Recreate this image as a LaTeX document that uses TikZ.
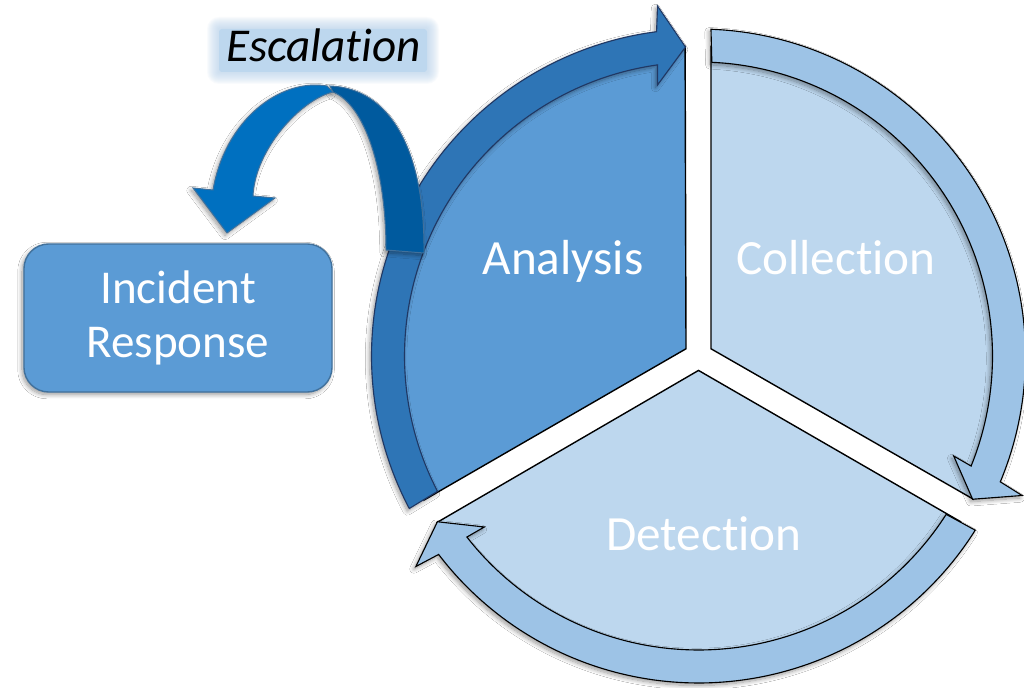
\documentclass[tikz,border=0pt]{standalone}
\usepackage{fontspec}
\setmainfont{Carlito}[Ligatures=NoCommon, Contextuals=NoAlternate]
\usetikzlibrary{calc,shadows.blur}

\definecolor{anafill}{HTML}{5B9BD5}
\definecolor{anaring}{HTML}{2E75B6}
\definecolor{anaedge}{HTML}{203864}
\definecolor{palefill}{HTML}{BDD7EE}
\definecolor{palering}{HTML}{9DC3E6}
\definecolor{boxedge}{HTML}{41719C}
\definecolor{escfront}{HTML}{0070C0}
\definecolor{escback}{HTML}{005A9E}

% geometry of the cycle (units of the picture grid)
\def\cx{698.5}\def\cy{332}
\def\rI{294}\def\rO{327}\def\rS{310}\def\rM{310.5}\def\rT{309}
\def\gp{12.5}\def\hb{41}\def\hw{39.5}\def\tp{13}

\tikzset{
  softshadow/.style={blur shadow={shadow xshift=-1.4pt, shadow yshift=-1.8pt,
      shadow blur radius=3pt, shadow blur steps=10, shadow opacity=40}},
  sectorline/.style={draw=black, line width=1pt, line join=miter},
  ringline/.style={line width=0.8pt, line join=miter, softshadow},
  lbltext/.style={text=white, anchor=base, inner sep=0pt},
  responsebox/.style={draw=boxedge, line width=1pt, fill=anafill,
      rounded corners=0.62cm, minimum width=7.7cm, minimum height=3.7cm,
      inner sep=0pt, softshadow},
  escribbon/.style={draw=boxedge, line width=0.7pt, line join=miter},
}

% pie wedge of one phase; #1 = angle of its leading gap, #2 = fill, #3 = name
\newcommand\sectorwedge[3]{%
  \pgfmathsetmacro\wA{#1-asin(\gp/\rS)}%
  \pgfmathsetmacro\wB{#1-120+asin(\gp/\rS)}%
  \pgfmathsetmacro\wV{#1-60}%
  \draw[sectorline, fill=#2] ($(C)+(\wV:14.43)$) coordinate (#3-vertex)
    -- plot[domain=0:1, samples=100, variable=\q]
       ({\cx+\rS*cos(\wA+(\wB-\wA)*\q)}, {\cy+\rS*sin(\wA+(\wB-\wA)*\q)})
    -- cycle;
}

% clockwise ring arrow round one phase; #1 = gap angle, #2 = fill, #3 = edge, #4 = name
\newcommand\ringarrow[4]{%
  \pgfmathsetmacro\hA{#1-120}%
  \pgfmathsetmacro\hN{#1-30}%
  \pgfmathsetmacro\toA{#1-asin(\gp/\rO)}%
  \pgfmathsetmacro\tiA{#1-asin(\gp/\rI)}%
  \pgfmathsetmacro\boA{\hA+asin(\hb/\rO)}%
  \pgfmathsetmacro\biA{\hA+asin(\hb/\rI)}%
  \pgfmathsetmacro\spO{(\boA)-(\toA)}%
  \pgfmathsetmacro\spI{(\tiA)-(\biA)}%
  \pgfmathsetmacro\rWo{\rM+\hw}%
  \pgfmathsetmacro\rWi{\rM-\hw}%
  \coordinate (#4-tip) at ($(C)+(\hA:\rT)+(\hN:\tp)$);
  \coordinate (#4-wo) at ($(C)+(\hA:\rWo)+(\hN:\hb)$);
  \coordinate (#4-wi) at ($(C)+(\hA:\rWi)+(\hN:\hb)$);
  \draw[ringline, fill=#2, draw=#3]
    plot[domain=0:1, samples=100, variable=\q]
      ({\cx+\rO*cos(\toA+\spO*\q)}, {\cy+\rO*sin(\toA+\spO*\q)})
    -- (#4-wo) -- (#4-tip) -- (#4-wi)
    -- plot[domain=0:1, samples=100, variable=\q]
      ({\cx+\rI*cos(\biA+\spI*\q)}, {\cy+\rI*sin(\biA+\spI*\q)})
    -- cycle;
}

% white label; name, x, y, size, text
\newcommand\whitelabel[5]{%
  \node[lbltext, font=\fontsize{#4}{#4}\selectfont] (#1) at (#2,#3) {#5};
}

\begin{document}
\begin{tikzpicture}[x=0.025cm, y=0.025cm]
  \useasboundingbox[fill=white] (0,0) rectangle (1024,688);
  \coordinate (C) at (\cx,\cy);

  % the three phases
  \sectorwedge{210}{anafill}{analysis}
  \sectorwedge{90}{palefill}{collection}
  \sectorwedge{330}{palefill}{detection}

  \ringarrow{210}{anaring}{anaedge}{analysisring}
  \ringarrow{90}{palering}{black}{collectionring}
  \ringarrow{330}{palering}{black}{detectionring}

  \whitelabel{analysislbl}{563}{413}{35}{Analysis}
  \whitelabel{collectionlbl}{836}{413}{35}{Collection}
  \whitelabel{detectionlbl}{704}{137}{35}{Detection}

  % incident response box
  \node[responsebox] (response) at (178,370) {};
  \whitelabel{incidentlbl}{178}{384}{33.5}{Incident}
  \whitelabel{responselbl}{178}{330}{33.5}{Response}

  % escalation ribbon arrow: back face, then front face with head
  \draw[escribbon, fill=escback, softshadow]
      (330,602) .. controls (390,600) and (425,538) .. (424,435)
      -- (386,438) .. controls (386,518) and (365,583) .. (333,596) -- cycle;
  \draw[escribbon, fill=escfront, softshadow]
    (327,602) .. controls (280,610) and (225,568) .. (213,498)
    -- (193,500) -- (227,455) coordinate (esctip) -- (275,490) -- (253,492)
    .. controls (255,538) and (300,588) .. (333,596) -- cycle;

  % escalation caption on a soft pale panel
  \foreach \e in {12,11,...,1}
    \fill[palefill, fill opacity=0.09, rounded corners=\e*0.025cm]
      (219-\e,616-\e) rectangle (427+\e,659+\e);
  \fill[palefill, rounded corners=2pt] (219,616) rectangle (427,659);
  \node[anchor=base, inner sep=0pt, font=\fontsize{33.5}{33.5}\selectfont\itshape]
    (escalation) at (323.5,626) {Escalation};
\end{tikzpicture}
\end{document}
